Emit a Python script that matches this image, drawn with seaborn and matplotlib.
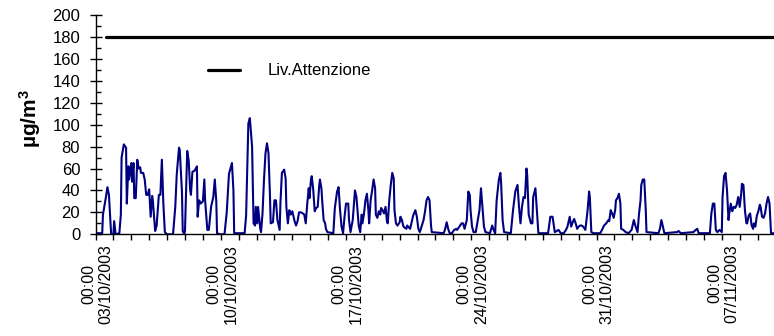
import numpy as np
import pandas as pd
import matplotlib
matplotlib.use("Agg")
import matplotlib.pyplot as plt
import matplotlib.dates as mdates
from matplotlib.ticker import FixedLocator, MultipleLocator, FuncFormatter
import seaborn as sns

# ---------------- data (hours since 02/10/2003 00:00, concentration µg/m3) ----------------
start = pd.Timestamp("2003-10-02 00:00")
end_hour = 910

hours = [0, 9, 10, 14, 16, 18, 21, 24, 25, 27, 32, 34, 35, 38, 41, 42, 44, 45, 48, 49,
         51, 52, 54, 56, 58, 60, 61, 64, 66, 68, 70, 72, 74, 76, 77, 80, 82, 85, 87, 89,
         91, 93, 96, 104, 107, 109, 112, 113, 116, 117, 119, 120, 123, 125, 127, 128, 130, 133, 136, 137,
         139, 141, 144, 146, 147, 150, 152, 155, 158, 160, 162, 163, 167, 173, 176, 179, 183, 185, 186, 189,
         200, 202, 205, 207, 210, 212, 214, 215, 217, 218, 221, 222, 224, 226, 228, 230, 232, 234, 235, 238,
         240, 242, 244, 247, 248, 250, 253, 255, 256, 258, 260, 262, 264, 265, 267, 269, 271, 273, 276, 280,
         282, 284, 286, 287, 289, 290, 292, 294, 296, 298, 300, 301, 303, 304, 306, 308, 309, 311, 319, 321,
         324, 326, 328, 330, 332, 334, 336, 339, 340, 342, 345, 348, 350, 351, 353, 355, 357, 358, 360, 362,
         364, 366, 367, 369, 371, 373, 375, 376, 378, 380, 382, 383, 385, 387, 389, 391, 392, 394, 396, 398,
         400, 401, 403, 405, 408, 409, 411, 413, 417, 418, 422, 426, 429, 431, 433, 435, 440, 442, 444, 446,
         448, 450, 451, 467, 469, 471, 473, 475, 478, 481, 484, 485, 488, 491, 493, 495, 498, 500, 502, 503,
         505, 507, 510, 512, 515, 517, 519, 521, 523, 529, 532, 534, 536, 538, 541, 543, 544, 546, 548, 557,
         560, 563, 566, 568, 570, 572, 574, 576, 578, 579, 581, 584, 586, 587, 590, 592, 594, 607, 610, 613,
         616, 621, 624, 628, 631, 633, 636, 638, 640, 642, 644, 646, 648, 650, 652, 654, 657, 660, 662, 663,
         665, 668, 677, 680, 682, 685, 688, 689, 691, 693, 695, 697, 698, 700, 702, 704, 705, 708, 711, 715,
         719, 721, 722, 724, 727, 729, 731, 732, 734, 736, 738, 739, 755, 757, 759, 761, 763, 780, 782, 785,
         802, 805, 807, 809, 824, 826, 828, 830, 832, 834, 837, 840, 841, 843, 845, 847, 849, 850, 852, 854,
         856, 858, 860, 862, 864, 866, 867, 869, 871, 873, 874, 876, 878, 880, 882, 883, 885, 887, 889, 891,
         892, 894, 896, 898, 900, 902, 904, 906, 910]

conc = [1, 1, 18, 34, 43, 36, 0, 0, 12, 0, 1, 18, 70, 82, 79, 28, 62, 50, 65, 48,
        65, 33, 33, 68, 60, 61, 56, 56, 50, 36, 36, 41, 16, 35, 30, 3, 8, 36, 36, 68,
        28, 2, 0, 0, 25, 55, 79, 77, 38, 3, 0, 3, 76, 67, 40, 36, 57, 58, 62, 16,
        31, 28, 30, 50, 31, 4, 4, 25, 34, 50, 30, 1, 0, 0, 20, 55, 65, 40, 1, 1,
        1, 17, 101, 106, 80, 10, 8, 25, 10, 25, 5, 2, 19, 50, 74, 83, 74, 35, 10, 11,
        31, 31, 13, 4, 28, 56, 59, 51, 25, 10, 22, 18, 21, 18, 12, 8, 12, 20, 20, 18,
        10, 28, 42, 33, 50, 53, 41, 21, 24, 25, 44, 50, 42, 31, 13, 10, 5, 2, 1, 24,
        39, 43, 22, 7, 1, 16, 28, 28, 13, 2, 13, 40, 34, 25, 8, 2, 18, 10, 18, 31,
        37, 22, 10, 31, 40, 50, 42, 18, 15, 21, 18, 24, 22, 19, 25, 11, 10, 31, 45, 56,
        51, 22, 10, 8, 11, 16, 13, 7, 5, 8, 5, 17, 22, 16, 5, 2, 13, 21, 31, 34,
        31, 8, 2, 1, 5, 11, 5, 1, 1, 4, 5, 4, 7, 10, 10, 5, 13, 39, 36, 22,
        7, 2, 2, 10, 22, 42, 25, 7, 2, 1, 8, 4, 1, 31, 50, 56, 47, 13, 2, 1,
        22, 39, 45, 25, 10, 25, 34, 33, 60, 54, 18, 10, 10, 34, 42, 22, 1, 1, 16, 16,
        2, 4, 1, 1, 4, 7, 16, 7, 11, 14, 10, 5, 7, 8, 8, 7, 4, 22, 39, 34,
        2, 1, 1, 5, 8, 10, 13, 12, 22, 19, 15, 22, 31, 33, 37, 28, 5, 4, 2, 1,
        4, 10, 13, 8, 2, 19, 31, 45, 50, 50, 22, 2, 1, 5, 13, 7, 1, 2, 3, 1,
        2, 4, 5, 1, 1, 19, 28, 28, 4, 2, 4, 2, 34, 53, 56, 40, 13, 19, 28, 21,
        25, 24, 27, 34, 25, 37, 46, 45, 22, 10, 10, 17, 19, 8, 5, 10, 7, 17, 21, 27,
        25, 16, 15, 19, 28, 34, 28, 1, 1]

attenzione_level = 180
attenzione_start_hour = 12
attenzione_label = "Liv.Attenzione"

week_ticks = ["2003-10-03", "2003-10-10", "2003-10-17", "2003-10-24", "2003-10-31", "2003-11-07"]
y_ticks = list(range(0, 201, 20))
y_label = "µg/m$^3$"

# ---------------- frames ----------------
df = pd.DataFrame({"time": start + pd.to_timedelta(hours, unit="h"), "conc": conc})
att_hours = [h for h in hours if h >= attenzione_start_hour]
df_att = pd.DataFrame({"time": start + pd.to_timedelta(att_hours, unit="h"),
                       "conc": [attenzione_level] * len(att_hours)})

# ---------------- style ----------------
sns.set_theme(style="ticks")
plt.rcParams["font.family"] = ["Liberation Sans", "DejaVu Sans"]
plt.rcParams["mathtext.fontset"] = "custom"
plt.rcParams["mathtext.rm"] = "Liberation Sans:bold"
plt.rcParams["mathtext.default"] = "rm"

fig = plt.figure(figsize=(7.74, 3.36), dpi=100)
ax = fig.add_axes([95.5 / 774, 1 - 234.3 / 336, 1 - 95.5 / 774, (234.3 - 15) / 336])

sns.lineplot(data=df, x="time", y="conc", ax=ax, color="#000080", linewidth=1.5,
             estimator=None, legend=False)
sns.lineplot(data=df_att, x="time", y="conc", ax=ax, color="black", linewidth=2.3,
             estimator=None, label=attenzione_label)

ax.set_xlim(start, start + pd.Timedelta(hours=end_hour))
ax.set_ylim(0, 200)

for s in ["top", "right"]:
    ax.spines[s].set_visible(False)
for s in ["left", "bottom"]:
    ax.spines[s].set_color("black")
    ax.spines[s].set_linewidth(1.0)

# y axis
ax.yaxis.set_major_locator(FixedLocator(y_ticks))
ax.yaxis.set_minor_locator(MultipleLocator(10))
ax.tick_params(axis="y", which="major", direction="inout", length=8, width=1,
               color="black", labelsize=12, pad=7, labelcolor="black")
ax.tick_params(axis="y", which="minor", direction="in", length=3.5, width=1, color="black")

# x axis
ax.xaxis.set_major_locator(FixedLocator(mdates.date2num(pd.to_datetime(week_ticks))))
ax.xaxis.set_minor_locator(mdates.DayLocator())
ax.xaxis.set_major_formatter(FuncFormatter(
    lambda v, p: mdates.num2date(v).strftime("%H:%M\n%d/%m/%Y")))
ax.tick_params(axis="x", which="both", direction="out", length=4, width=1, color="black",
               labelsize=11.5, pad=3, labelcolor="black")
for lab in ax.get_xticklabels():
    lab.set_rotation(90)
    lab.set_horizontalalignment("right")
    lab.set_verticalalignment("top")
    lab.set_multialignment("center")

ax.set_xlabel("")
ax.set_ylabel(y_label, fontsize=15, fontweight="bold", color="black")
ax.yaxis.set_label_coords(-0.077, 0.53)

leg = ax.legend(loc="center left", bbox_to_anchor=((208 - 95.5) / 678.5, 0.745),
                frameon=False, fontsize=12, handlelength=1.92, handletextpad=1.68,
                borderpad=0, borderaxespad=0)
for t in leg.get_texts():
    t.set_color("black")

fig.savefig("out.png", dpi=100, facecolor="white")
